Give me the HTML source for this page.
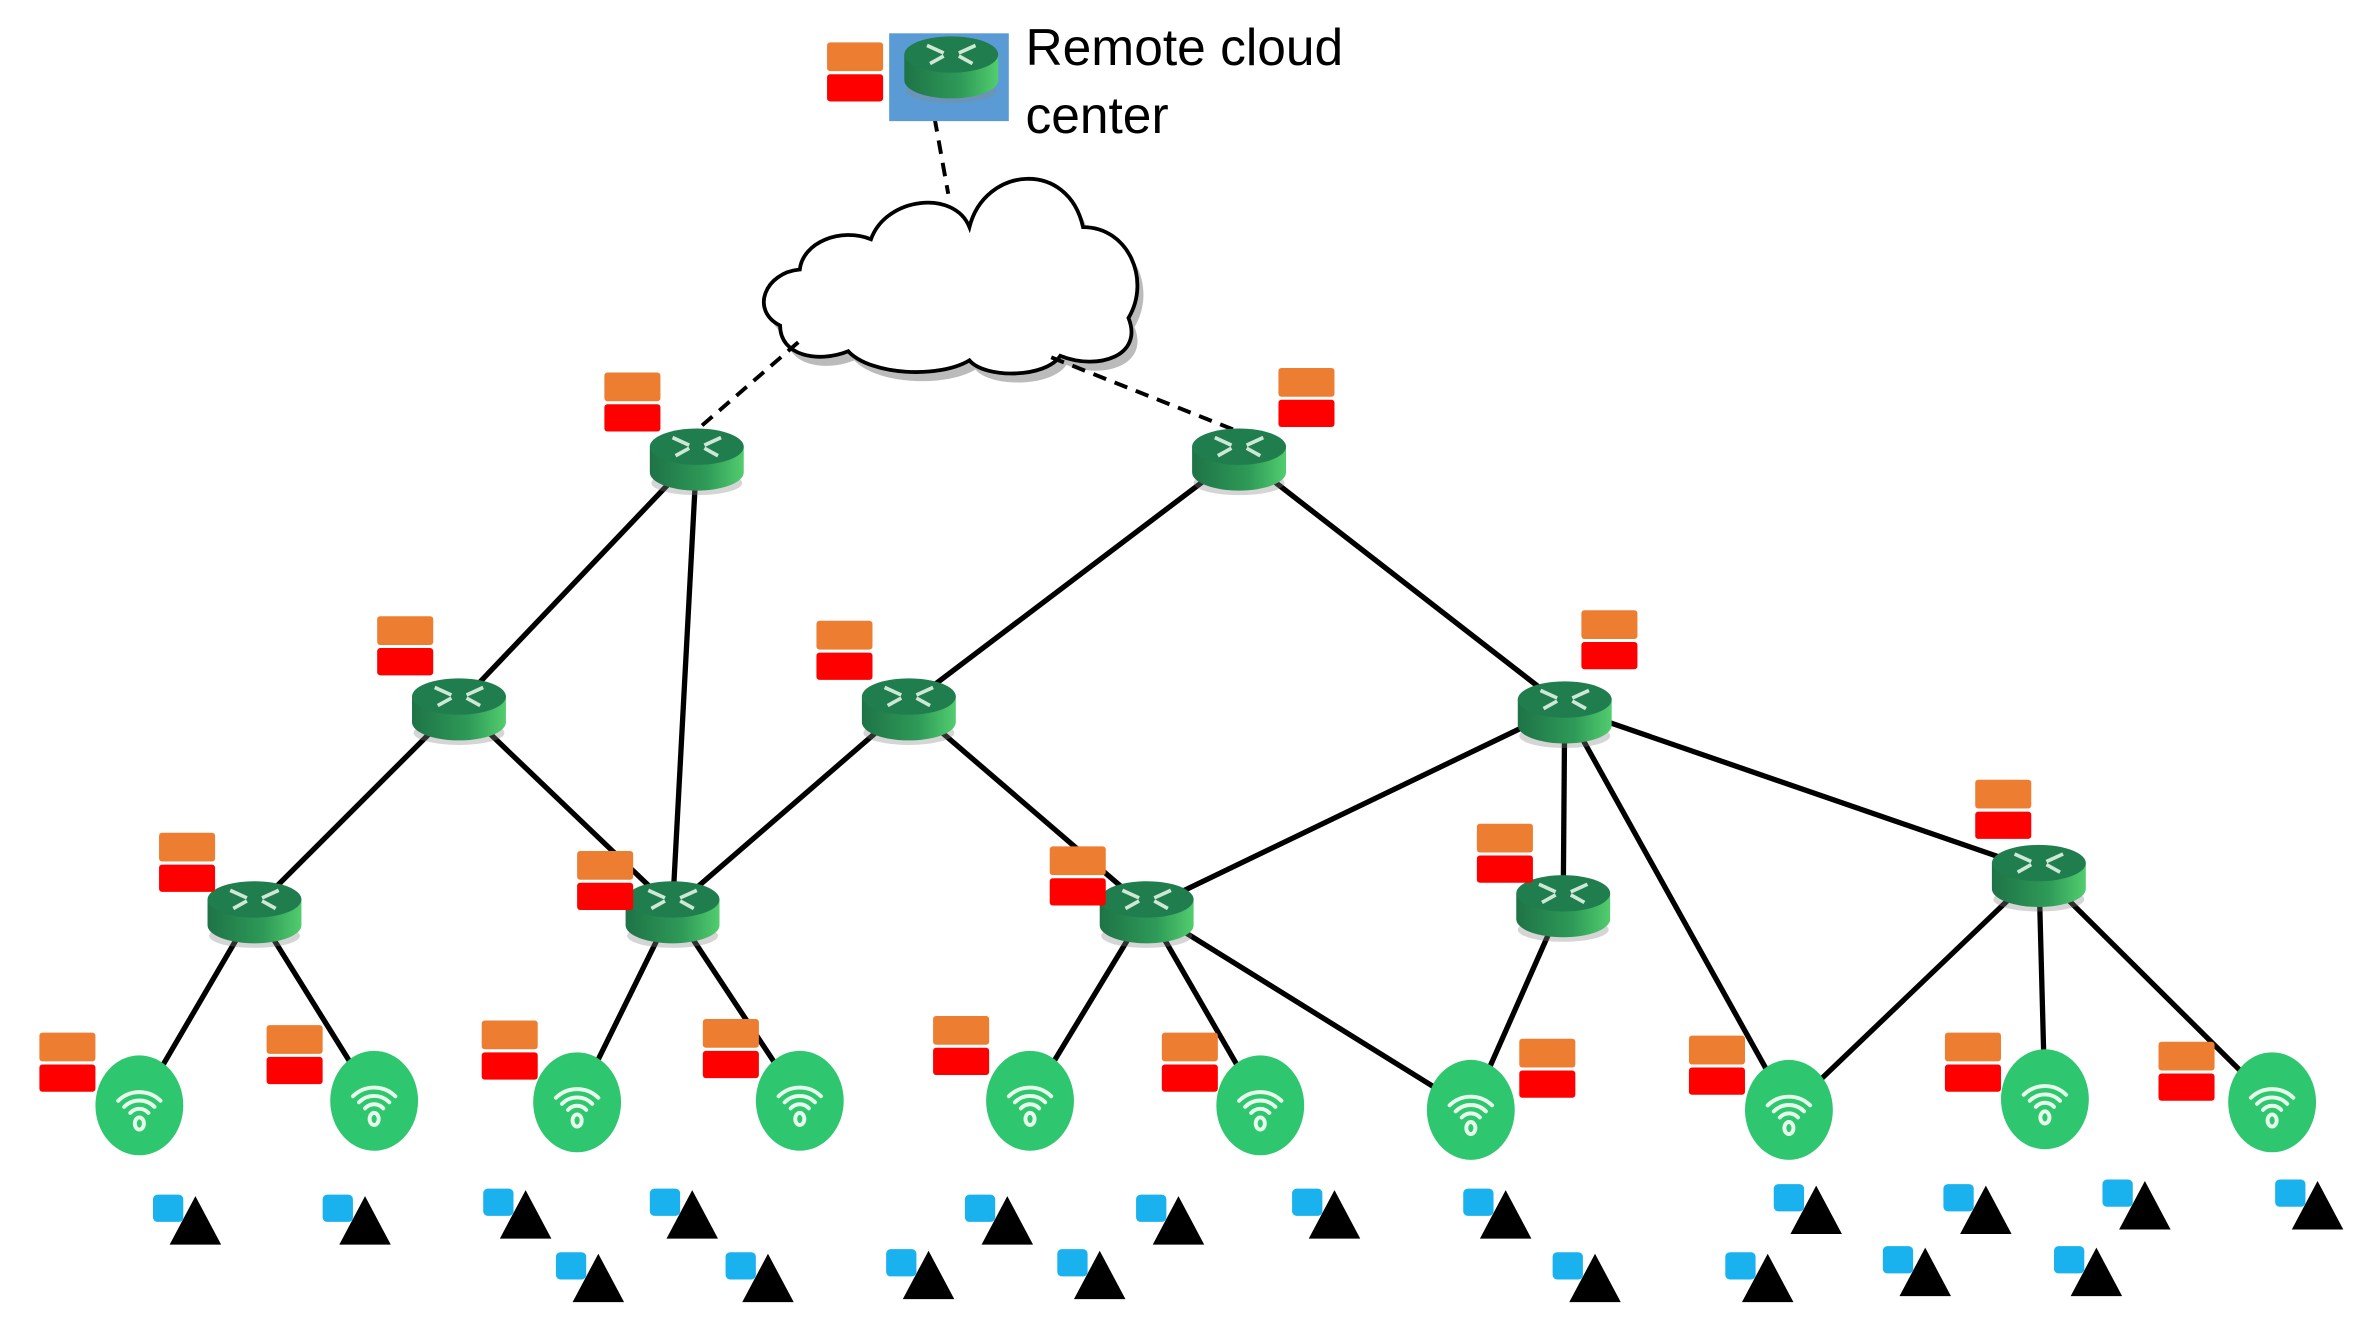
<!DOCTYPE html>
<html><head><meta charset="utf-8"><style>html,body{margin:0;padding:0;background:#fff}svg{display:block}</style></head>
<body>
<svg width="2363" height="1337" viewBox="0 0 1560 883" preserveAspectRatio="none" xmlns="http://www.w3.org/2000/svg">
<defs>
<linearGradient id="rg" x1="0" x2="1" y1="0" y2="0"><stop offset="0" stop-color="#1e7346"/><stop offset="0.6" stop-color="#2e9a58"/><stop offset="1" stop-color="#52cd6e"/></linearGradient>
<symbol id="router" overflow="visible">
<ellipse cx="0" cy="24" rx="30" ry="8" fill="#888" opacity="0.35"/>
<path d="M-31,0 L-31,17 A31,12 0 0 0 31,17 L31,0 Z" fill="url(#rg)"/>
<ellipse cx="0" cy="0" rx="31" ry="12" fill="#1f7d4e"/>
<g stroke="#cfe8d6" stroke-width="2.4" fill="none">
<path d="M-16,-6 L-5,-1 M-14,6 L-5,1 M16,-6 L5,-1 M14,6 L5,1"/>
</g>
</symbol>
<symbol id="ap" overflow="visible">
<ellipse cx="0" cy="0" rx="29" ry="33" fill="#2ec66e"/>
<g stroke="#e6fbe9" stroke-width="2.6" fill="none" stroke-linecap="round">
<path d="M-14,-3 A20,20 0 0 1 14,-3"/>
<path d="M-10,1 A14,14 0 0 1 10,1"/>
<path d="M-6,5 A8,8 0 0 1 6,5"/>
<ellipse cx="0" cy="12" rx="3" ry="4"/>
</g>
</symbol>
<symbol id="badge" overflow="visible">
<rect x="0" y="0" width="37" height="19" rx="2" fill="#ed7d31"/>
<rect x="0" y="21" width="37" height="18" rx="2" fill="#ff0000"/>
</symbol>
<symbol id="dev" overflow="visible">
<rect x="-28" y="-1" width="20" height="18" rx="3" fill="#1ab2ee"/>
<polygon points="0,0 -17,32 17,32" fill="#000"/>
</symbol>
</defs>

<path d="M515,215 C495,205 505,180 528,178 C530,160 555,150 575,158 C585,130 630,125 640,150 C650,110 705,105 715,150 C745,150 760,185 745,210 C755,235 725,245 700,235 C690,250 650,250 640,238 C620,250 575,248 560,232 C540,240 515,235 515,215 Z" fill="#bbb" transform="translate(4,6)"/>
<path d="M515,215 C495,205 505,180 528,178 C530,160 555,150 575,158 C585,130 630,125 640,150 C650,110 705,105 715,150 C745,150 760,185 745,210 C755,235 725,245 700,235 C690,250 650,250 640,238 C620,250 575,248 560,232 C540,240 515,235 515,215 Z" fill="#fff" stroke="#000" stroke-width="2.5"/>

<g stroke="#000" stroke-width="2.6" stroke-dasharray="9,6" fill="none">
<line x1="617" y1="78" x2="626" y2="128"/>
<line x1="527" y1="226" x2="460" y2="284"/>
<line x1="694" y1="236" x2="815" y2="284"/>
</g>

<g stroke="#000" stroke-width="3.5" fill="none">
<line x1="460" y1="300" x2="303" y2="465"/>
<line x1="460" y1="300" x2="444" y2="600"/>
<line x1="818" y1="300" x2="600" y2="465"/>
<line x1="818" y1="300" x2="1033" y2="467"/>
<line x1="303" y1="465" x2="168" y2="600"/>
<line x1="303" y1="465" x2="444" y2="600"/>
<line x1="600" y1="465" x2="444" y2="600"/>
<line x1="600" y1="465" x2="757" y2="600"/>
<line x1="1033" y1="467" x2="757" y2="600"/>
<line x1="1033" y1="467" x2="1032" y2="595"/>
<line x1="1033" y1="467" x2="1346" y2="575"/>
<line x1="1033" y1="467" x2="1181" y2="733"/>
<line x1="168" y1="600" x2="92" y2="730"/>
<line x1="168" y1="600" x2="247" y2="727"/>
<line x1="444" y1="600" x2="381" y2="728"/>
<line x1="444" y1="600" x2="528" y2="727"/>
<line x1="757" y1="600" x2="680" y2="727"/>
<line x1="757" y1="600" x2="832" y2="730"/>
<line x1="757" y1="600" x2="971" y2="733"/>
<line x1="1032" y1="595" x2="971" y2="733"/>
<line x1="1346" y1="575" x2="1181" y2="733"/>
<line x1="1346" y1="575" x2="1350" y2="726"/>
<line x1="1346" y1="575" x2="1500" y2="728"/>
</g>

<rect x="587" y="22" width="79" height="58" fill="#5b9bd5"/>
<use href="#router" x="628" y="36"/>
<text x="677" y="43" font-family="Liberation Sans, sans-serif" font-size="34" fill="#000">Remote cloud</text>
<text x="677" y="88" font-family="Liberation Sans, sans-serif" font-size="34" fill="#000">center</text>

<use href="#router" x="460" y="295"/>
<use href="#router" x="818" y="295"/>
<use href="#router" x="303" y="460"/>
<use href="#router" x="600" y="460"/>
<use href="#router" x="1033" y="462"/>
<use href="#router" x="168" y="594"/>
<use href="#router" x="444" y="594"/>
<use href="#router" x="757" y="594"/>
<use href="#router" x="1032" y="590"/>
<use href="#router" x="1346" y="570"/>

<use href="#ap" x="92" y="730"/>
<use href="#ap" x="247" y="727"/>
<use href="#ap" x="381" y="728"/>
<use href="#ap" x="528" y="727"/>
<use href="#ap" x="680" y="727"/>
<use href="#ap" x="832" y="730"/>
<use href="#ap" x="971" y="733"/>
<use href="#ap" x="1181" y="733"/>
<use href="#ap" x="1350" y="726"/>
<use href="#ap" x="1500" y="728"/>

<use href="#badge" x="546" y="28"/>
<use href="#badge" x="399" y="246"/>
<use href="#badge" x="844" y="243"/>
<use href="#badge" x="249" y="407"/>
<use href="#badge" x="539" y="410"/>
<use href="#badge" x="1044" y="403"/>
<use href="#badge" x="105" y="550"/>
<use href="#badge" x="381" y="562"/>
<use href="#badge" x="693" y="559"/>
<use href="#badge" x="975" y="544"/>
<use href="#badge" x="1304" y="515"/>
<use href="#badge" x="26" y="682"/>
<use href="#badge" x="176" y="677"/>
<use href="#badge" x="318" y="674"/>
<use href="#badge" x="464" y="673"/>
<use href="#badge" x="616" y="671"/>
<use href="#badge" x="767" y="682"/>
<use href="#badge" x="1003" y="686"/>
<use href="#badge" x="1115" y="684"/>
<use href="#badge" x="1284" y="682"/>
<use href="#badge" x="1425" y="688"/>

<use href="#dev" x="129" y="790"/>
<use href="#dev" x="241" y="790"/>
<use href="#dev" x="347" y="786"/>
<use href="#dev" x="457" y="786"/>
<use href="#dev" x="665" y="790"/>
<use href="#dev" x="778" y="790"/>
<use href="#dev" x="881" y="786"/>
<use href="#dev" x="994" y="786"/>
<use href="#dev" x="1199" y="783"/>
<use href="#dev" x="1311" y="783"/>
<use href="#dev" x="1416" y="780"/>
<use href="#dev" x="1530" y="780"/>
<use href="#dev" x="395" y="828"/>
<use href="#dev" x="507" y="828"/>
<use href="#dev" x="613" y="826"/>
<use href="#dev" x="726" y="826"/>
<use href="#dev" x="1053" y="828"/>
<use href="#dev" x="1167" y="828"/>
<use href="#dev" x="1271" y="824"/>
<use href="#dev" x="1384" y="824"/>
</svg>
</body></html>
